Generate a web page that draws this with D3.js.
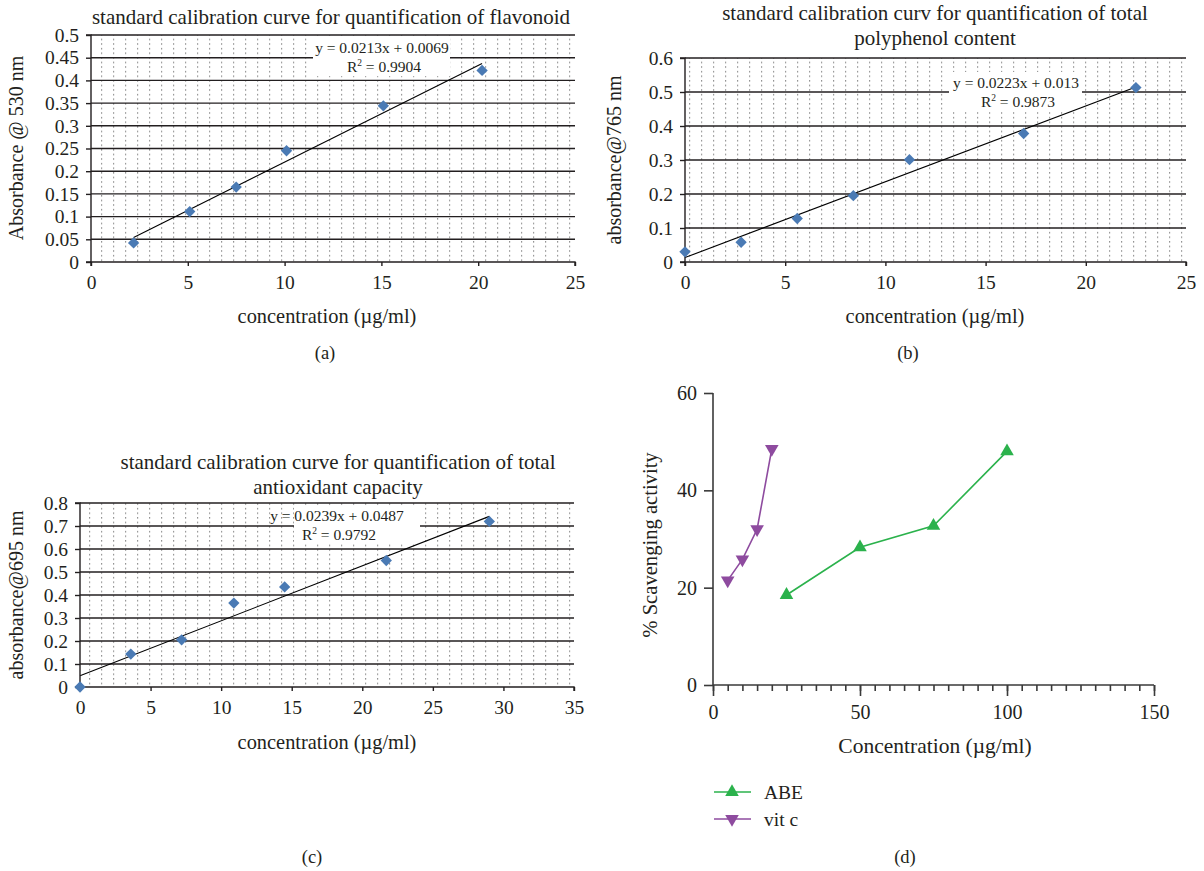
<!DOCTYPE html>
<html><head><meta charset="utf-8">
<script src="https://cdn.jsdelivr.net/npm/d3@7"></script>
<style>
body{margin:0;background:#fff}
svg{display:block}
text{font-family:"Liberation Serif","Times New Roman",serif;fill:#231f20}
</style>
</head><body>
<svg id="chart" width="1204" height="871"></svg>
<script>
// ---------- data ----------
const flavConc = [2.2, 5.1, 7.5, 10.1, 15.1, 20.2];
const flavAbs  = [0.042, 0.111, 0.165, 0.245, 0.344, 0.422];
const flavFit  = [0.0213, 0.0069];
const flavXTicks = [0, 5, 10, 15, 20, 25];
const flavYTicks = [0, 0.05, 0.1, 0.15, 0.2, 0.25, 0.3, 0.35, 0.4, 0.45, 0.5];
const flavYLabels = ["0","0.05","0.1","0.15","0.2","0.25","0.3","0.35","0.4","0.45","0.5"];

const polyConc = [0, 2.8, 5.6, 8.4, 11.2, 16.9, 22.5];
const polyAbs  = [0.03, 0.058, 0.128, 0.195, 0.301, 0.378, 0.513];
const polyFit  = [0.0223, 0.013];
const polyXTicks = [0, 5, 10, 15, 20, 25];
const polyYTicks = [0, 0.1, 0.2, 0.3, 0.4, 0.5, 0.6];
const polyYLabels = ["0","0.1","0.2","0.3","0.4","0.5","0.6"];

const taoConc = [0, 3.6, 7.2, 10.9, 14.5, 21.7, 29.0];
const taoAbs  = [0, 0.143, 0.205, 0.365, 0.435, 0.55, 0.72];
const taoFit  = [0.0239, 0.0487];
const taoXTicks = [0, 5, 10, 15, 20, 25, 30, 35];
const taoYTicks = [0, 0.1, 0.2, 0.3, 0.4, 0.5, 0.6, 0.7, 0.8];
const taoYLabels = ["0","0.1","0.2","0.3","0.4","0.5","0.6","0.7","0.8"];

const abeConc = [25, 50, 75, 100];
const abeAct  = [18.5, 28.3, 32.7, 48.0];
const vitcConc = [5, 10, 15, 20];
const vitcAct  = [21.5, 25.8, 32.0, 48.5];
const scavXTicks = [0, 50, 100, 150];
const scavYTicks = [0, 20, 40, 60];
const seriesNames = ["ABE", "vit c"];

// ---------- drawing ----------
const svg = d3.select("#chart");
const defs = svg.append("defs");
const pat = defs.append("pattern").attr("id","dots").attr("patternUnits","userSpaceOnUse")
  .attr("width",12).attr("height",4.6);
pat.append("rect").attr("x",5).attr("y",2).attr("width",1.2).attr("height",1.3).attr("fill","#7c7c7c");

const INK = "#231f20";
const DIAMOND = "#4a7ab4";
const SERIF = '"Liberation Serif",serif';

function calib(o){
  const g = svg.append("g");
  const x = d3.scaleLinear().domain([o.xTicks[0], o.xTicks[o.xTicks.length-1]]).range([o.left, o.right]);
  const y = d3.scaleLinear().domain([o.yTicks[0], o.yTicks[o.yTicks.length-1]]).range([o.bottom, o.top]);

  g.append("rect").attr("x",o.left).attr("y",o.top)
    .attr("width",o.right-o.left).attr("height",o.bottom-o.top).attr("fill","url(#dots)");

  g.selectAll(".grid").data(o.yTicks.slice(1)).join("line")
    .attr("x1",o.left).attr("x2",o.right)
    .attr("y1",d=>y(d)).attr("y2",d=>y(d))
    .attr("stroke",INK).attr("stroke-width",1.4);

  // equation box
  g.append("rect").attr("x",o.box[0]).attr("y",o.box[1]).attr("width",o.box[2]).attr("height",o.box[3]).attr("fill","#fff");

  // trend line
  const x0 = d3.min(o.xs), x1 = d3.max(o.xs);
  g.append("line").attr("x1",x(x0)).attr("y1",y(o.fit[0]*x0+o.fit[1]))
    .attr("x2",x(x1)).attr("y2",y(o.fit[0]*x1+o.fit[1]))
    .attr("stroke","#000").attr("stroke-width",1.1);

  // axes
  const ya = g.append("g").attr("transform",`translate(${o.left},0)`)
    .call(d3.axisLeft(y).tickValues(o.yTicks).tickSize(5).tickPadding(7).tickFormat((d,i)=>o.yLabels[i]));
  const xa = g.append("g").attr("transform",`translate(0,${o.bottom})`)
    .call(d3.axisBottom(x).tickValues(o.xTicks).tickSize(4).tickPadding(9).tickFormat(d=>String(d)));
  [ya,xa].forEach(a=>{
    a.selectAll("path").attr("stroke",INK).attr("stroke-width",1.4);
    a.selectAll("line").attr("stroke",INK).attr("stroke-width",1.4);
    a.selectAll("text").attr("font-size",19.5).attr("fill",INK).style("font-family",SERIF);
  });
  ya.select(".domain").attr("d",`M-5,${o.top}H0V${o.bottom}H-5`);
  xa.select(".domain").attr("d",`M${o.left},4V0H${o.right}V4`);

  // points
  g.selectAll(".pt").data(o.xs.map((v,i)=>[v,o.ys[i]])).join("path")
    .attr("d",d3.symbol(d3.symbolSquare,64)())
    .attr("transform",d=>`translate(${x(d[0])},${y(d[1])}) rotate(45)`)
    .attr("fill",DIAMOND);

  // equation text
  const eq = g.append("text").attr("text-anchor","middle").attr("font-size",15.5);
  eq.append("tspan").attr("x",o.eqPos[0]).attr("y",o.eqPos[1])
    .text(`y = ${o.fit[0]}x + ${o.fit[1]}`);
  const r2 = g.append("text").attr("text-anchor","middle").attr("font-size",15.5)
    .attr("x",o.eqPos[0]+2).attr("y",o.eqPos[1]+19);
  r2.append("tspan").text("R");
  r2.append("tspan").attr("font-size",9.5).attr("dy",-6).text("2");
  r2.append("tspan").attr("dy",6).text(` = ${o.r2}`);

  // titles
  const t = g.append("text").attr("text-anchor","middle").attr("font-size",21);
  o.title.forEach((line,i)=>t.append("tspan").attr("x",o.titlePos[0]).attr("y",o.titlePos[1]+i*25).text(line));
  g.append("text").attr("text-anchor","middle").attr("font-size",20.4)
    .attr("x",o.xTitlePos[0]).attr("y",o.xTitlePos[1]).text("concentration (µg/ml)");
  g.append("text").attr("text-anchor","middle").attr("font-size",20)
    .attr("transform",`translate(${o.yTitlePos[0]},${o.yTitlePos[1]}) rotate(-90)`).text(o.yTitle);
  g.append("text").attr("text-anchor","middle").attr("font-size",18.5)
    .attr("x",o.tag[0]).attr("y",o.tag[1]).text(o.tag[2]);
}

calib({xs:flavConc, ys:flavAbs, fit:flavFit, r2:"0.9904",
  xTicks:flavXTicks, yTicks:flavYTicks, yLabels:flavYLabels,
  left:91, right:575, top:35, bottom:262,
  box:[313,38,137,38], eqPos:[382,53],
  title:["standard calibration curve for quantification of flavonoid"], titlePos:[331,24],
  xTitlePos:[327,323], yTitlePos:[23,148], yTitle:"Absorbance @ 530 nm", tag:[325,359,"(a)"]});

calib({xs:polyConc, ys:polyAbs, fit:polyFit, r2:"0.9873",
  xTicks:polyXTicks, yTicks:polyYTicks, yLabels:polyYLabels,
  left:685, right:1186, top:58, bottom:262,
  box:[949,72,133,38], eqPos:[1016,88],
  title:["standard calibration curv for quantification of total","polyphenol content"], titlePos:[935,20],
  xTitlePos:[935,323], yTitlePos:[621,160], yTitle:"absorbance@765 nm", tag:[908,359,"(b)"]});

calib({xs:taoConc, ys:taoAbs, fit:taoFit, r2:"0.9792",
  xTicks:taoXTicks, yTicks:taoYTicks, yLabels:taoYLabels,
  left:80, right:574, top:503, bottom:687,
  box:[294,507,126,36], eqPos:[337,521],
  title:["standard calibration curve for quantification of total","antioxidant capacity"], titlePos:[338,469],
  xTitlePos:[327,749], yTitlePos:[23,595], yTitle:"absorbance@695 nm", tag:[312,863,"(c)"]});

// ---------- panel d ----------
(function(){
  const g = svg.append("g");
  const AX = "#3a3a3a";
  const GREEN = "#2bb24c", PURPLE = "#8e4b9f";
  const x = d3.scaleLinear().domain([scavXTicks[0], scavXTicks[scavXTicks.length-1]]).range([713,1154]);
  const y = d3.scaleLinear().domain([scavYTicks[0], scavYTicks[scavYTicks.length-1]]).range([685,393]);

  const minor = g.append("g").attr("transform","translate(0,685)")
    .call(d3.axisBottom(x).tickValues(d3.range(0,151,5)).tickSize(6).tickFormat(""));
  const xa = g.append("g").attr("transform","translate(0,685)")
    .call(d3.axisBottom(x).tickValues(scavXTicks).tickSize(11).tickPadding(9).tickFormat(d=>String(d)));
  const ya = g.append("g").attr("transform","translate(713,0)")
    .call(d3.axisLeft(y).tickValues(scavYTicks).tickSize(9).tickPadding(7).tickFormat(d=>String(d)));
  [minor,xa,ya].forEach(a=>{
    a.selectAll("path").attr("stroke",AX).attr("stroke-width",1.6);
    a.selectAll("line").attr("stroke",AX).attr("stroke-width",1.6);
    a.selectAll("text").attr("font-size",20).attr("fill",INK).style("font-family",SERIF);
  });
  minor.select(".domain").remove();
  xa.select(".domain").attr("d","M713,0H1154");
  ya.select(".domain").attr("d","M0,393V685");

  const line = d3.line().x(d=>x(d[0])).y(d=>y(d[1]));
  const series = [
    {pts: abeConc.map((v,i)=>[v,abeAct[i]]), color: GREEN, rot: 0},
    {pts: vitcConc.map((v,i)=>[v,vitcAct[i]]), color: PURPLE, rot: 180}
  ];
  series.forEach(s=>{
    g.append("path").attr("d",line(s.pts)).attr("fill","none").attr("stroke",s.color).attr("stroke-width",1.6);
    g.selectAll(null).data(s.pts).join("path")
      .attr("d",d3.symbol(d3.symbolTriangle,80)())
      .attr("transform",d=>`translate(${x(d[0])},${y(d[1])}) rotate(${s.rot})`)
      .attr("fill",s.color);
  });

  g.append("text").attr("text-anchor","middle").attr("font-size",21.5)
    .attr("x",935).attr("y",753).text("Concentration (µg/ml)");
  g.append("text").attr("text-anchor","middle").attr("font-size",20.6)
    .attr("transform","translate(657,545) rotate(-90)").text("% Scavenging activity");

  series.forEach((s,i)=>{
    const ly = 792 + i*27;
    g.append("line").attr("x1",714).attr("x2",751).attr("y1",ly).attr("y2",ly).attr("stroke",s.color).attr("stroke-width",1.6);
    g.append("path").attr("d",d3.symbol(d3.symbolTriangle,80)())
      .attr("transform",`translate(732,${ly}) rotate(${s.rot})`).attr("fill",s.color);
    g.append("text").attr("x",764).attr("y",ly+7).attr("font-size",19.5).text(seriesNames[i]);
  });

  g.append("text").attr("text-anchor","middle").attr("font-size",18.5)
    .attr("x",905).attr("y",863).text("(d)");
})();
</script>
</body></html>
